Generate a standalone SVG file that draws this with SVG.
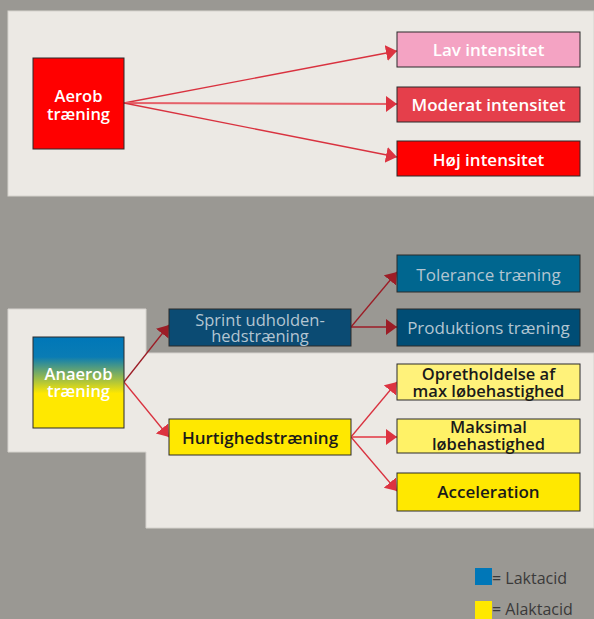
<svg xmlns="http://www.w3.org/2000/svg" width="594" height="619" viewBox="0 0 594 619">
<style>
  text { font-family: "Open Sans", "Noto Sans", "Liberation Sans", sans-serif; font-size: 17px; text-anchor: middle; }
  .t2 { font-size: 16.5px; }
  .w { fill: #ffffff; font-weight: 600; }
  .b { fill: #b3c5d1; font-weight: 500; }
  .k { fill: #1a1a1a; font-weight: 600; }
  .box { stroke: #2b2b2b; stroke-width: 1; }
  .lr { stroke: #d9323f; stroke-width: 1.3; fill: none; marker-end: url(#ar); }
  .lm { stroke: #e5626a; stroke-width: 1.8; fill: none; marker-end: url(#ar); }
  .ld { stroke: #9c1d26; stroke-width: 1.3; fill: none; marker-end: url(#ad); }
  .leg { fill: #3a3a3a; font-weight: 400; font-size: 16px; text-anchor: start; }
</style>
<defs>
  <marker id="ar" markerUnits="userSpaceOnUse" markerWidth="12" markerHeight="17" refX="11" refY="8" orient="auto">
    <path d="M0,0 L11,8 L0,16 z" fill="#dc3340"/>
  </marker>
  <marker id="ad" markerUnits="userSpaceOnUse" markerWidth="12" markerHeight="17" refX="11" refY="8" orient="auto">
    <path d="M0,0 L11,8 L0,16 z" fill="#9c1d26"/>
  </marker>
  <linearGradient id="ana" x1="0" y1="0" x2="0" y2="1">
    <stop offset="0" stop-color="#0077b8"/>
    <stop offset="0.22" stop-color="#0a7cb4"/>
    <stop offset="0.62" stop-color="#ffe800"/>
    <stop offset="1" stop-color="#ffe800"/>
  </linearGradient>
</defs>
<rect x="0" y="0" width="594" height="619" fill="#9a9893"/>
<g id="panels">
  <rect x="8" y="11" width="586" height="185" fill="#ece9e4" stroke="#d6d3ce" stroke-width="1"/>
  <path d="M8,309 H146 V353 H594 V528 H146 V452 H8 Z" fill="#ece9e4" stroke="#d6d3ce" stroke-width="1"/>
</g>
<g id="connectors">
  <line class="lr" x1="124" y1="103" x2="397" y2="51"/>
  <line class="lm" x1="124" y1="103" x2="397" y2="104"/>
  <line class="lr" x1="124" y1="103" x2="397" y2="157"/>
  <line class="ld" x1="124" y1="382" x2="169" y2="325"/>
  <line class="lr" x1="124" y1="382" x2="169" y2="437"/>
  <line class="ld" x1="351" y1="327" x2="397" y2="272"/>
  <line class="ld" x1="351" y1="327" x2="397" y2="327"/>
  <line class="lr" x1="351" y1="437" x2="397" y2="382"/>
  <line class="lm" x1="351" y1="437" x2="397" y2="437"/>
  <line class="lr" x1="351" y1="437" x2="397" y2="491"/>
</g>
<g id="aerob">
  <rect class="box" x="33" y="58" width="91" height="91" fill="#ff0000"/>
  <text class="w t2" x="78.5" y="102">Aerob</text>
  <text class="w t2" x="78.5" y="120">træning</text>
</g>
<g id="lav">
  <rect class="box" x="397" y="32" width="183" height="35" fill="#f4a3c3"/>
  <text class="w" x="488.5" y="56">Lav intensitet</text>
</g>
<g id="moderat">
  <rect class="box" x="397" y="87" width="183" height="35" fill="#e53f4b"/>
  <text class="w" x="488.5" y="111">Moderat intensitet</text>
</g>
<g id="hoej">
  <rect class="box" x="397" y="141" width="183" height="35" fill="#ff0000"/>
  <text class="w" x="488.5" y="166">Høj intensitet</text>
</g>
<g id="anaerob">
  <rect class="box" x="33" y="337" width="91" height="91" fill="url(#ana)"/>
  <text class="w t2" x="78.5" y="380">Anaerob</text>
  <text class="w t2" x="78.5" y="397">træning</text>
</g>
<g id="sprint">
  <rect class="box" x="169" y="309" width="182" height="37" fill="#0b4b73"/>
  <text class="b t2" x="260" y="326">Sprint udholden-</text>
  <text class="b t2" x="260" y="342">hedstræning</text>
</g>
<g id="tolerance">
  <rect class="box" x="397" y="255" width="183" height="37" fill="#00668f"/>
  <text class="b" x="488.5" y="281">Tolerance træning</text>
</g>
<g id="produktion">
  <rect class="box" x="397" y="309" width="183" height="37" fill="#004d75"/>
  <text class="b" x="488.5" y="334">Produktions træning</text>
</g>
<g id="hurtighed">
  <rect class="box" x="169" y="419" width="182" height="36" fill="#ffe800"/>
  <text class="k" x="260" y="444">Hurtighedstræning</text>
</g>
<g id="opretholdelse">
  <rect class="box" x="397" y="364" width="183" height="36" fill="#fff27a"/>
  <text class="k t2" x="488.5" y="380">Opretholdelse af</text>
  <text class="k t2" x="488.5" y="397">max løbehastighed</text>
</g>
<g id="maksimal">
  <rect class="box" x="397" y="419" width="183" height="34" fill="#fff266"/>
  <text class="k t2" x="488.5" y="433">Maksimal</text>
  <text class="k t2" x="488.5" y="450">løbehastighed</text>
</g>
<g id="acceleration">
  <rect class="box" x="397" y="473" width="183" height="38" fill="#ffe800"/>
  <text class="k" x="488.5" y="498">Acceleration</text>
</g>
<g id="legend">
  <rect x="475" y="568" width="17" height="17" fill="#0077b8"/>
  <text class="leg" x="492" y="584">= Laktacid</text>
  <rect x="475" y="601" width="17" height="18" fill="#ffe800"/>
  <text class="leg" x="492" y="615">= Alaktacid</text>
</g>
</svg>
